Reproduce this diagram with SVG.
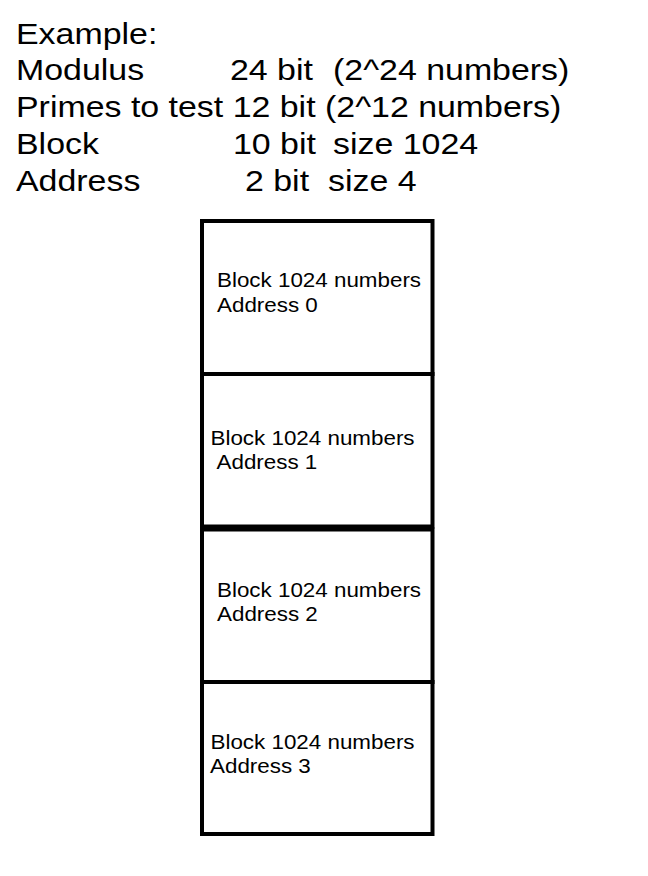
<svg xmlns="http://www.w3.org/2000/svg" width="648" height="876" viewBox="0 0 648 876">
<style>
.big{font-family:"Liberation Sans",Arial,sans-serif;font-size:29.5px;fill:#000}
.small{font-family:"Liberation Sans",Arial,sans-serif;font-size:20px;fill:#000}
.cell{fill:#fff;stroke:#000;stroke-width:4}
</style>
<rect width="648" height="876" fill="#fff"/>
<g id="legend">
<text class="big" transform="translate(16,44) scale(1.15,1)">Example:</text>
<text class="big" transform="translate(16,80) scale(1.15,1)">Modulus</text>
<text class="big" transform="translate(230,80) scale(1.15,1)">24 bit</text>
<text class="big" transform="translate(333,80) scale(1.15,1)">(2^24 numbers)</text>
<text class="big" transform="translate(16,117) scale(1.15,1)">Primes to test 12 bit (2^12 numbers)</text>
<text class="big" transform="translate(16,154) scale(1.15,1)">Block</text>
<text class="big" transform="translate(233,154) scale(1.15,1)">10 bit</text>
<text class="big" transform="translate(333,154) scale(1.15,1)">size 1024</text>
<text class="big" transform="translate(16,191) scale(1.15,1)">Address</text>
<text class="big" transform="translate(245,191) scale(1.15,1)">2 bit</text>
<text class="big" transform="translate(328,191) scale(1.15,1)">size 4</text>
</g>
<g id="block0">
<rect class="cell" x="202" y="221" width="230.5" height="153"/>
<text class="small" transform="translate(217,287) scale(1.12,1)">Block 1024 numbers</text>
<text class="small" transform="translate(217,312) scale(1.12,1)">Address 0</text>
</g>
<g id="block1">
<rect class="cell" x="202" y="374" width="230.5" height="152.5"/>
<text class="small" transform="translate(210.5,445) scale(1.12,1)">Block 1024 numbers</text>
<text class="small" transform="translate(216.5,469) scale(1.12,1)">Address 1</text>
</g>
<g id="block2">
<rect class="cell" x="202" y="529.5" width="230.5" height="152.5"/>
<text class="small" transform="translate(217,597) scale(1.12,1)">Block 1024 numbers</text>
<text class="small" transform="translate(217,621) scale(1.12,1)">Address 2</text>
</g>
<g id="block3">
<rect class="cell" x="202" y="682" width="230.5" height="152"/>
<text class="small" transform="translate(210.5,749) scale(1.12,1)">Block 1024 numbers</text>
<text class="small" transform="translate(210,773) scale(1.12,1)">Address 3</text>
</g>
<g id="connectors"/>
</svg>
